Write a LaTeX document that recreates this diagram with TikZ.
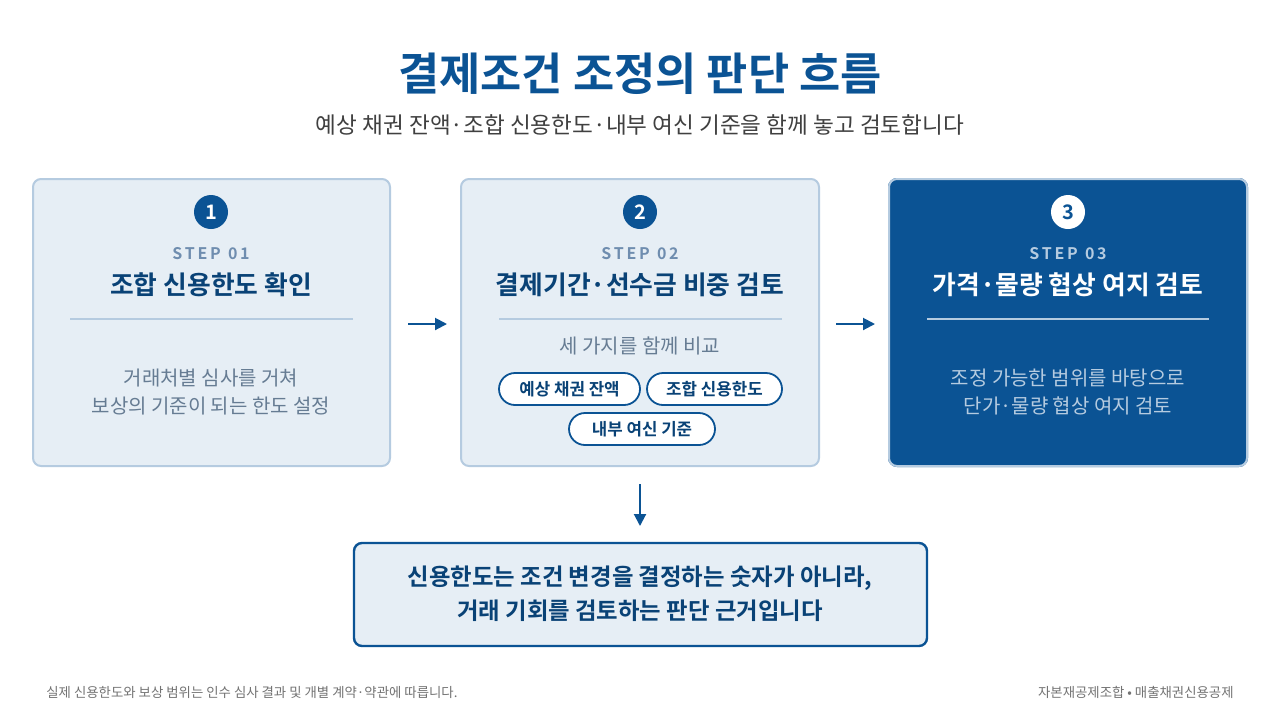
\documentclass[tikz,border=0pt]{standalone}
\usepackage{fontspec}
\setmainfont{Noto Sans CJK KR}
\newfontfamily\krb{Noto Sans CJK KR Bold}
\usetikzlibrary{positioning,arrows.meta}
\definecolor{navy}{HTML}{0B5394}
\definecolor{pale}{HTML}{E6EEF5}
\definecolor{edge}{HTML}{B5CBE0}
\definecolor{grey}{HTML}{667C93}
\definecolor{stepc}{HTML}{6F8DAF}
\tikzset{
  card/.style={draw=edge,fill=pale,line width=1pt,rounded corners=4pt},
  num/.style={circle,fill=navy,text=white,minimum size=17pt,inner sep=0pt,font=\krb\fontsize{10}{10}\selectfont},
  pill/.style={draw=navy,line width=0.9pt,rounded corners=8pt,fill=white,minimum height=16pt,inner sep=3pt,font=\krb\fontsize{8.4}{8.4}\selectfont,text=navy!80!black},
  flow/.style={-{Triangle[length=6pt,width=6pt]},navy,line width=1pt}
}
\begin{document}
\begin{tikzpicture}[x=0.5pt,y=-0.5pt]
\useasboundingbox[fill=white] (0,0) rectangle (1280,720);

% title
\node[font=\krb\fontsize{22.4}{22.4}\selectfont,text=navy] (title) at (640,74) {결제조건 조정의 판단 흐름};
\node[font=\fontsize{11.3}{11.3}\selectfont,text=black!75] (sub) at (640,125) {예상 채권 잔액·조합 신용한도·내부 여신 기준을 함께 놓고 검토합니다};

% step 1
\draw[card] (33,179) rectangle (390,466);
\node[num] (n1) at (211,212) {1};
\node[font=\krb\fontsize{8}{8}\selectfont,text=stepc] (s1) at (211,254) {S\,T\,E\,P\ \ 0\,1};
\node[font=\krb\fontsize{12.9}{12.9}\selectfont,text=navy!80!black] (t1) at (211,285) {조합 신용한도 확인};
\draw[edge,line width=1pt] (70,319) -- (353,319);
\node[font=\fontsize{10}{14}\selectfont,text=grey,align=center] (d1) at (211,392) {거래처별 심사를 거쳐\\보상의 기준이 되는 한도 설정};

% step 2
\draw[card] (461,179) rectangle (819,466);
\node[num] (n2) at (640,212) {2};
\node[font=\krb\fontsize{8}{8}\selectfont,text=stepc] (s2) at (640,254) {S\,T\,E\,P\ \ 0\,2};
\node[font=\krb\fontsize{12.9}{12.9}\selectfont,text=navy!80!black] (t2) at (640,285) {결제기간·선수금 비중 검토};
\draw[edge,line width=1pt] (499,319) -- (782,319);
\node[font=\fontsize{10}{10}\selectfont,text=grey] (d2) at (640,346) {세 가지를 함께 비교};
\node[pill,minimum width=70.5pt] (p1) at (569.5,389) {예상 채권 잔액};
\node[pill,minimum width=67.5pt] (p2) at (714.5,389) {조합 신용한도};
\node[pill,minimum width=73pt] (p3) at (642,429) {내부 여신 기준};

% step 3
\draw[navy,fill=navy,rounded corners=4pt,line width=1pt] (889,179) rectangle (1247,466);
\draw[edge,line width=1pt,rounded corners=4pt] (889,179) rectangle (1247,466);
\node[num,fill=white,text=navy] (n3) at (1068,212) {3};
\node[font=\krb\fontsize{8}{8}\selectfont,text=edge] (s3) at (1068,254) {S\,T\,E\,P\ \ 0\,3};
\node[font=\krb\fontsize{12.9}{12.9}\selectfont,text=white] (t3) at (1068,285) {가격·물량 협상 여지 검토};
\draw[edge,line width=1pt] (927,319) -- (1209,319);
\node[font=\fontsize{10}{14}\selectfont,text=edge,align=center] (d3) at (1068,392) {조정 가능한 범위를 바탕으로\\단가·물량 협상 여지 검토};

% arrows
\coordinate (a1) at (408,324); \coordinate (b1) at (447,324);
\coordinate (a2) at (836,324); \coordinate (b2) at (875,324);
\coordinate (a3) at (640,484); \coordinate (b3) at (640,526);
\draw[flow] (a1) -- (b1);
\draw[flow] (a2) -- (b2);
\draw[flow] (a3) -- (b3);

% conclusion
\draw[navy,fill=pale,line width=1.2pt,rounded corners=4pt] (354,543) rectangle (927,646);
\node[font=\krb\fontsize{11.7}{17}\selectfont,text=navy!80!black,align=center] (c) at (640,594) {신용한도는 조건 변경을 결정하는 숫자가 아니라,\\거래 기회를 검토하는 판단 근거입니다};

% footer
\node[font=\fontsize{6.7}{6.7}\selectfont,text=black!55,anchor=west,inner sep=0pt] (f1) at (46,692) {실제 신용한도와 보상 범위는 인수 심사 결과 및 개별 계약·약관에 따릅니다.};
\node[font=\fontsize{6.7}{6.7}\selectfont,text=black!55,anchor=east,inner sep=0pt] (f2) at (1234,692) {자본재공제조합 • 매출채권신용공제};
\end{tikzpicture}
\end{document}
